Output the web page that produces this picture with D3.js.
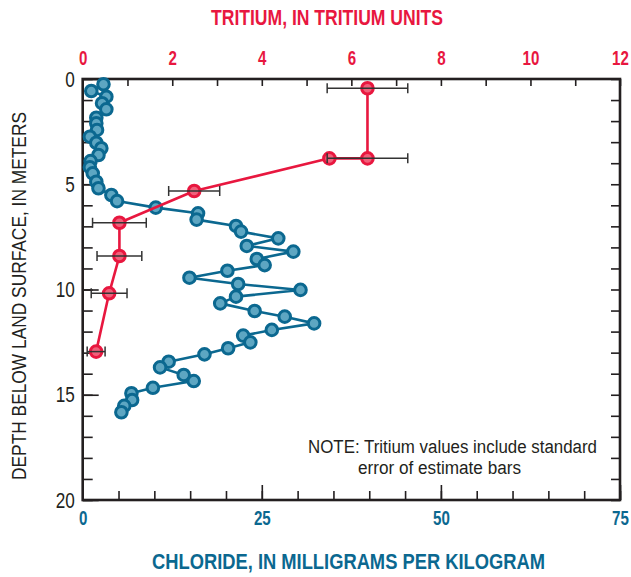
<!DOCTYPE html>
<html>
<head>
<meta charset="utf-8">
<script src="https://cdn.jsdelivr.net/npm/d3@7"></script>
<style>
  html, body { margin: 0; padding: 0; background: #fff; }
  svg { display: block; }
  .cond { font-family: "Liberation Sans", Arial, sans-serif; }
</style>
</head>
<body>
<svg id="chart" width="631" height="577"></svg>
<script>
// Chloride profile: depth below land surface (m) and chloride (mg/kg)
const chlorideDepth = [0.25, 0.57, 0.84, 1.15, 1.44, 1.84, 2.10, 2.42, 2.74, 3.03,
  3.29, 3.61, 3.90, 4.19, 4.48, 4.88, 5.19, 5.51, 5.80, 6.11,
  6.38, 6.68, 6.98, 7.25, 7.57, 7.93, 8.20, 8.55, 8.84, 9.11,
  9.44, 9.74, 10.02, 10.34, 10.66, 11.02, 11.29, 11.61, 11.92, 12.19,
  12.51, 12.79, 13.08, 13.43, 13.70, 14.06, 14.35, 14.67, 14.93, 15.25,
  15.53, 15.83];
const chlorideValue = [2.9, 1.2, 3.3, 2.7, 3.3, 1.9, 1.9, 2.0, 1.0, 1.9,
  2.6, 2.2, 1.1, 1.0, 1.4, 1.9, 2.2, 4.0, 4.8, 10.2,
  16.1, 15.9, 21.4, 22.1, 27.3, 22.9, 29.4, 24.3, 25.4, 20.2,
  14.9, 21.7, 30.4, 21.4, 19.2, 24.0, 28.2, 32.3, 26.4, 22.4,
  23.4, 20.3, 17.0, 12.0, 10.8, 14.1, 15.5, 9.8, 6.8, 6.9,
  5.8, 5.4];

// Tritium profile (TU) with standard error of estimate
const tritiumDepth = [0.44, 3.77, 3.77, 5.32, 6.83, 8.41, 10.18, 12.95];
const tritiumValue = [6.36, 6.36, 5.51, 2.49, 0.82, 0.82, 0.59, 0.30];
const tritiumError = [0.9, 0.9, 0, 0.57, 0.6, 0.5, 0.4, 0.2];

// Tick values
const depthTicks = [0, 5, 10, 15, 20];
const tritiumTicks = [0, 2, 4, 6, 8, 10, 12];
const chlorideTicks = [0, 25, 50, 75];

const C_RED = "#e8173f";
const C_BLUE = "#0b6890";
const C_INK = "#231f20";

const margin = { left: 82.7, right: 11, top: 79, bottom: 77 };
const W = 631, H = 577;
const x0 = margin.left, x1 = W - margin.right;
const y0 = margin.top, y1 = H - margin.bottom;

const svg = d3.select("#chart");

const yScale = d3.scaleLinear().domain([0, 20]).range([y0, y1]);
const xChl = d3.scaleLinear().domain([0, 75]).range([x0, x1]);
const xTri = d3.scaleLinear().domain([0, 12]).range([x0, x1]);

// Narrow the glyphs horizontally (condensed lettering)
function squeeze(text, k) {
  text.each(function () {
    const t = d3.select(this);
    const x = +t.attr("x") || 0;
    t.attr("x", x / k).attr("transform", `scale(${k},1)`);
  });
}

function styleAxis(g, color, size, weight, k) {
  g.select(".domain").remove();
  g.selectAll(".tick line").attr("stroke", C_INK).attr("stroke-width", 1.6);
  g.selectAll(".tick text")
    .attr("class", "cond")
    .attr("fill", color)
    .attr("font-size", size)
    .attr("font-weight", weight)
    .call(squeeze, k);
}

// Top axis: tritium
svg.append("g")
  .attr("transform", `translate(0,${y0})`)
  .call(d3.axisTop(xTri).tickValues(d3.range(0, 13, 1)).tickSize(-7).tickPadding(14)
    .tickFormat(d => tritiumTicks.includes(d) ? d : ""))
  .call(g => styleAxis(g, C_RED, 21, "bold", 0.72));

// Bottom axis: chloride (minor then major)
svg.append("g")
  .attr("transform", `translate(0,${y1})`)
  .call(d3.axisBottom(xChl).tickValues(d3.range(0, 76, 5)).tickSize(-9).tickFormat(""))
  .call(g => styleAxis(g, C_BLUE, 21, "bold", 0.72));
svg.append("g")
  .attr("transform", `translate(0,${y1})`)
  .call(d3.axisBottom(xChl).tickValues(chlorideTicks).tickSize(-15).tickPadding(10))
  .call(g => styleAxis(g, C_BLUE, 21, "bold", 0.72));

// Left axis: depth
svg.append("g")
  .attr("transform", `translate(${x0},0)`)
  .call(d3.axisLeft(yScale).tickValues(d3.range(0, 21, 1)).tickSize(-10).tickFormat(""))
  .call(g => styleAxis(g, C_INK, 22, "normal", 0.78));
svg.append("g")
  .attr("transform", `translate(${x0},0)`)
  .call(d3.axisLeft(yScale).tickValues(depthTicks).tickSize(-16).tickPadding(8))
  .call(g => styleAxis(g, C_INK, 22, "normal", 0.78));

// Right axis ticks
svg.append("g")
  .attr("transform", `translate(${x1},0)`)
  .call(d3.axisRight(yScale).tickValues(d3.range(0, 21, 1)).tickSize(-9).tickFormat(""))
  .call(g => styleAxis(g, C_INK, 21, "normal", 1));

// Frame
svg.append("rect")
  .attr("x", x0).attr("y", y0)
  .attr("width", x1 - x0).attr("height", y1 - y0)
  .attr("fill", "none").attr("stroke", C_INK).attr("stroke-width", 2.6);

// Chloride line and markers
const chl = chlorideDepth.map((d, i) => ({ d, v: chlorideValue[i] }));
svg.append("path")
  .datum(chl)
  .attr("fill", "none").attr("stroke", C_BLUE).attr("stroke-width", 2.6)
  .attr("stroke-linejoin", "round")
  .attr("d", d3.line().x(p => xChl(p.v)).y(p => yScale(p.d)));
svg.append("g").selectAll("circle").data(chl).join("circle")
  .attr("cx", p => xChl(p.v)).attr("cy", p => yScale(p.d))
  .attr("r", 5.8)
  .attr("fill", "#5da6c2").attr("stroke", C_BLUE).attr("stroke-width", 3);

// Tritium line and markers
const tri = tritiumDepth.map((d, i) => ({ d, v: tritiumValue[i], e: tritiumError[i] }));
svg.append("path")
  .datum(tri)
  .attr("fill", "none").attr("stroke", C_RED).attr("stroke-width", 2.6)
  .attr("stroke-linejoin", "round")
  .attr("d", d3.line().x(p => xTri(p.v)).y(p => yScale(p.d)));
svg.append("g").selectAll("circle").data(tri).join("circle")
  .attr("cx", p => xTri(p.v)).attr("cy", p => yScale(p.d))
  .attr("r", 5.8)
  .attr("fill", "#f0607a").attr("stroke", C_RED).attr("stroke-width", 3);

// Standard error bars
const bars = svg.append("g").attr("stroke", "#333").attr("stroke-width", 1.5).attr("fill", "none");
tri.filter(p => p.e > 0).forEach(p => {
  const y = yScale(p.d), xa = xTri(p.v - p.e), xb = xTri(p.v + p.e);
  bars.append("line").attr("x1", xa).attr("x2", xb).attr("y1", y).attr("y2", y);
  bars.append("line").attr("x1", xa).attr("x2", xa).attr("y1", y - 5).attr("y2", y + 5);
  bars.append("line").attr("x1", xb).attr("x2", xb).attr("y1", y - 5).attr("y2", y + 5);
});

// Axis titles
svg.append("text").attr("class", "cond")
  .attr("x", 211).attr("y", 25)
  .attr("textLength", 232).attr("lengthAdjust", "spacingAndGlyphs")
  .attr("fill", C_RED)
  .attr("font-size", 22).attr("font-weight", "bold")
  .text("TRITIUM, IN TRITIUM UNITS");

svg.append("text").attr("class", "cond")
  .attr("x", 152).attr("y", 569)
  .attr("textLength", 393).attr("lengthAdjust", "spacingAndGlyphs")
  .attr("fill", C_BLUE)
  .attr("font-size", 22).attr("font-weight", "bold")
  .text("CHLORIDE, IN MILLIGRAMS PER KILOGRAM");

svg.append("text").attr("class", "cond")
  .attr("transform", `translate(26,480) rotate(-90)`)
  .attr("textLength", 368).attr("lengthAdjust", "spacingAndGlyphs")
  .attr("fill", C_INK)
  .attr("font-size", 21)
  .text("DEPTH BELOW LAND SURFACE, IN METERS");

// Note
svg.append("text").attr("class", "cond")
  .attr("x", 308).attr("y", 453)
  .attr("textLength", 289).attr("lengthAdjust", "spacingAndGlyphs")
  .attr("fill", C_INK).attr("font-size", 18)
  .text("NOTE: Tritium values include standard");
svg.append("text").attr("class", "cond")
  .attr("x", 358).attr("y", 474)
  .attr("textLength", 163).attr("lengthAdjust", "spacingAndGlyphs")
  .attr("fill", C_INK).attr("font-size", 18)
  .text("error of estimate bars");
</script>
</body>
</html>
